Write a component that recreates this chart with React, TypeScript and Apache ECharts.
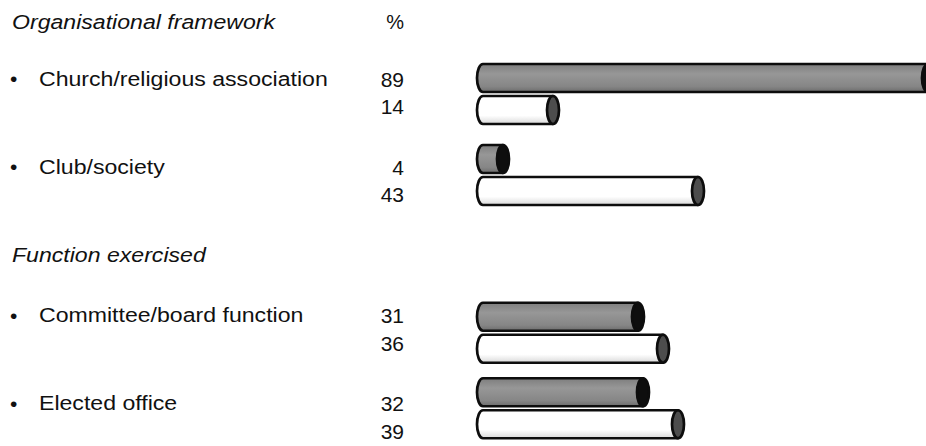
import React, { useEffect, useRef } from "react";
import * as echarts from "echarts";

// ---- data ----
const sectionTitles = ["Organisational framework", "Function exercised"];
const unitLabel = "%";
const categoriesOrg = ["Church/religious association", "Club/society"];
const categoriesFunc = ["Committee/board function", "Elected office"];
const grayOrg = [89, 4];
const whiteOrg = [14, 43];
const grayFunc = [31, 32];
const whiteFunc = [36, 39];

// ---- layout ----
const W = 926;
const H = 446;
const FONT = "'Liberation Sans', Arial, sans-serif";
const LABEL_SIZE = 21;
const LABEL_SCALE_X = 1.1;
const NUM_SIZE = 20;
const NUM_SCALE_X = 1.05;
const GRID_LEFT = 483;
const GRID_WIDTH = 440;
const X_MAX = 88;
const GRID_TOPS = [53.5, 295];
const GRID_HEIGHT = 162;
const BAR_H = 28;
const BAR_OFFSET = 16;
const RX = 6;
const HEADER_Y = [21.5, 255];
const LABEL_BASE = [78.5, 315];
const ROW_PITCH = 88;
const NUM_DY = [1, 28.5];
const NUM_RIGHT = 404;

const sections = [
  { title: sectionTitles[0], cats: categoriesOrg, gray: grayOrg, white: whiteOrg },
  { title: sectionTitles[1], cats: categoriesFunc, gray: grayFunc, white: whiteFunc },
];

function makeRenderItem(kind: "gray" | "white") {
  return (params: any, api: any) => {
    const val = api.value(0);
    const cat = api.value(1);
    const p0 = api.coord([0, cat]);
    const p1 = api.coord([val, cat]);
    const cy = p0[1] + (kind === "gray" ? -BAR_OFFSET : BAR_OFFSET);
    const ry = BAR_H / 2;
    const x0 = p0[0];
    const x1 = p1[0];
    const top = cy - ry;
    const bot = cy + ry;
    const d = `M${x1},${top} L${x0},${top} A${RX},${ry} 0 0 0 ${x0},${bot} L${x1},${bot} Z`;
    const bodyFill =
      kind === "gray"
        ? new echarts.graphic.LinearGradient(0, 0, 0, 1, [
            { offset: 0, color: "#7e7e7e" },
            { offset: 0.35, color: "#979797" },
            { offset: 0.8, color: "#868686" },
            { offset: 1, color: "#6c6c6c" },
          ])
        : new echarts.graphic.LinearGradient(0, 0, 0, 1, [
            { offset: 0, color: "#ffffff" },
            { offset: 0.7, color: "#ffffff" },
            { offset: 1, color: "#d9d9d9" },
          ]);
    const capFill = kind === "gray" ? "#0e0e0e" : "#4d4d4d";
    return {
      type: "group",
      children: [
        {
          type: "path",
          shape: { pathData: d },
          style: { fill: bodyFill, stroke: "#0d0d0d", lineWidth: 2.7, lineJoin: "round" },
        },
        {
          type: "ellipse",
          shape: { cx: x1, cy, rx: RX, ry },
          style: { fill: capFill, stroke: "#0d0d0d", lineWidth: 2.7 },
        },
      ],
    };
  };
}

function buildTexts() {
  const els: any[] = [];
  const lab = { fontFamily: FONT, fontSize: LABEL_SIZE, fill: "#111", verticalAlign: "middle" };
  const num = { fontFamily: FONT, fontSize: NUM_SIZE, fill: "#111", verticalAlign: "middle" };
  sections.forEach((s, si) => {
    els.push({
      type: "text",
      x: 12,
      y: HEADER_Y[si],
      scaleX: LABEL_SCALE_X,
      style: { ...lab, text: s.title, fontStyle: "italic", align: "left" },
    });
    s.cats.forEach((c, ri) => {
      const y = LABEL_BASE[si] + ri * ROW_PITCH;
      els.push({ type: "text", x: 10, y, style: { ...lab, text: "•", align: "left" } });
      els.push({
        type: "text",
        x: 39,
        y,
        scaleX: LABEL_SCALE_X,
        style: { ...lab, text: c, align: "left" },
      });
      els.push({
        type: "text",
        x: NUM_RIGHT,
        y: y + NUM_DY[0],
        scaleX: NUM_SCALE_X,
        style: { ...num, text: String(s.gray[ri]), align: "right" },
      });
      els.push({
        type: "text",
        x: NUM_RIGHT,
        y: y + NUM_DY[1],
        scaleX: NUM_SCALE_X,
        style: { ...num, text: String(s.white[ri]), align: "right" },
      });
    });
  });
  els.push({
    type: "text",
    x: NUM_RIGHT,
    y: HEADER_Y[0],
    style: { ...num, text: unitLabel, align: "right" },
  });
  return els;
}

export default function App() {
  const ref = useRef<HTMLDivElement>(null);
  useEffect(() => {
    if (!ref.current) return;
    const chart = echarts.init(ref.current, undefined, { renderer: "svg", width: W, height: H });
    const grids = GRID_TOPS.map((t) => ({ left: GRID_LEFT, width: GRID_WIDTH, top: t, height: GRID_HEIGHT }));
    const xAxes = sections.map((_, i) => ({ type: "value", gridIndex: i, min: 0, max: X_MAX, show: false }));
    const yAxes = sections.map((s, i) => ({
      type: "category",
      gridIndex: i,
      data: s.cats,
      inverse: true,
      show: false,
    }));
    const series: any[] = [];
    sections.forEach((s, i) => {
      series.push({
        type: "custom",
        name: "gray",
        xAxisIndex: i,
        yAxisIndex: i,
        renderItem: makeRenderItem("gray"),
        encode: { x: 0, y: 1 },
        data: s.gray.map((v, k) => [v, k]),
        clip: false,
      });
      series.push({
        type: "custom",
        name: "white",
        xAxisIndex: i,
        yAxisIndex: i,
        renderItem: makeRenderItem("white"),
        encode: { x: 0, y: 1 },
        data: s.white.map((v, k) => [v, k]),
        clip: false,
      });
    });
    chart.setOption({
      animation: false,
      backgroundColor: "#ffffff",
      grid: grids,
      xAxis: xAxes,
      yAxis: yAxes,
      series,
      graphic: buildTexts(),
    });
    return () => chart.dispose();
  }, []);
  return (
    <div
      ref={ref}
      style={{ position: "fixed", left: 0, top: 0, width: W, height: H, background: "#fff" }}
    />
  );
}
